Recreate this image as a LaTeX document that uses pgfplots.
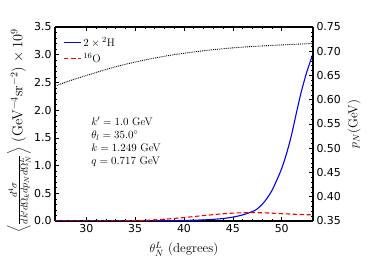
\documentclass[border=0pt]{standalone}
\usepackage{pgfplots}
\pgfplotsset{compat=1.18}
\usepackage{fontspec}
\newfontfamily\dejavu{DejaVu Sans}
\begin{document}
\begin{tikzpicture}
\useasboundingbox (-55bp,-56bp) rectangle (314bp,221bp);
\pgfplotsset{
  common/.style={
    at={(0,0)}, anchor=south west,
    scale only axis, width=258bp, height=194bp,
    xmin=26.8, xmax=53.2,
    tick align=inside,
    major tick length=4bp, minor tick length=2bp,
    every tick/.style={black, line width=0.6pt},
    axis line style={line width=1.1pt},
    tick label style={font=\dejavu\fontsize{11}{13}\selectfont},
    /pgf/number format/assume math mode=true,
    minor tick num=4,
  }
}
\begin{axis}[common,
  axis y line*=left,
  xtick={30,35,40,45,50},
  ymin=0, ymax=3.5,
  ytick={0,0.5,1,1.5,2,2.5,3,3.5},
  yticklabel style={/pgf/number format/.cd, fixed, fixed zerofill, precision=1},
  xlabel={$\theta_N^L$ (degrees)},
  xlabel style={font=\fontsize{13}{15}\selectfont, at={(axis description cs:0.5,-0.145)}, anchor=center},
  ylabel={$\left\langle\frac{d^4\sigma}{dk'd\Omega_k dp_N d\Omega_N^L}\right\rangle$ (GeV$^{-4}$sr$^{-2}$) $\times\,10^9$},
  ylabel style={font=\fontsize{14.5}{16}\selectfont, at={(axis description cs:-0.14,0.464)}, anchor=center},
  legend style={draw=none, fill=none, at={(0.02,0.97)}, anchor=north west,
    font=\fontsize{11}{14}\selectfont, row sep=2bp},
  legend cell align=left,
]
\addplot[blue, line width=1.1pt, smooth] coordinates {
(26.8,0) (30,0) (35,0.002) (38,0.005) (40,0.01) (42,0.02) (43,0.03) (44,0.045) (45,0.07) (46,0.11) (47,0.17) (47.5,0.22) (48,0.30) (48.5,0.41) (49,0.55) (49.5,0.74) (50,0.95) (50.5,1.22) (51,1.55) (51.5,1.95) (52,2.33) (52.5,2.65) (53,2.92) (53.2,3.01)
};
\addlegendentry{$2\times{}^2\mathrm{H}$}
\addplot[red, line width=1.1pt, dash pattern=on 4.5bp off 2.5bp, smooth] coordinates {
(26.8,0.0) (30,0.0) (33,0.002) (35,0.006) (36,0.012) (37,0.02) (38,0.032) (39,0.046) (40,0.062) (41,0.08) (42,0.098) (43,0.115) (44,0.13) (45,0.142) (46,0.149) (47,0.151) (48,0.148) (49,0.141) (50,0.132) (51,0.124) (52,0.117) (53.2,0.11)
};
\addlegendentry{$^{16}\mathrm{O}$}
\node[anchor=west, font=\fontsize{11}{12}\selectfont, align=left, inner sep=0pt] at (axis cs:30.5,1.43) {%
$k'=1.0$ GeV\\[1bp] $\theta_l=35.0^\circ$\\[1bp] $k=1.249$ GeV\\[1bp] $q=0.717$ GeV};
\end{axis}
\begin{axis}[common,
  axis y line*=right,
  axis x line=none,
  ymin=0.35, ymax=0.75,
  ytick={0.35,0.40,0.45,0.50,0.55,0.60,0.65,0.70,0.75},
  yticklabel style={/pgf/number format/.cd, fixed, fixed zerofill, precision=2},
  ylabel={$p_N$(GeV)},
  ylabel style={font=\fontsize{13}{15}\selectfont},
]
\addplot[black, densely dotted, line width=0.9pt, smooth] coordinates {
(26.8,0.628) (28,0.637) (30,0.650) (33,0.668) (36,0.682) (39,0.693) (42,0.701) (45,0.707) (48,0.711) (51,0.714) (53.2,0.716)
};
\end{axis}
\end{tikzpicture}
\end{document}
